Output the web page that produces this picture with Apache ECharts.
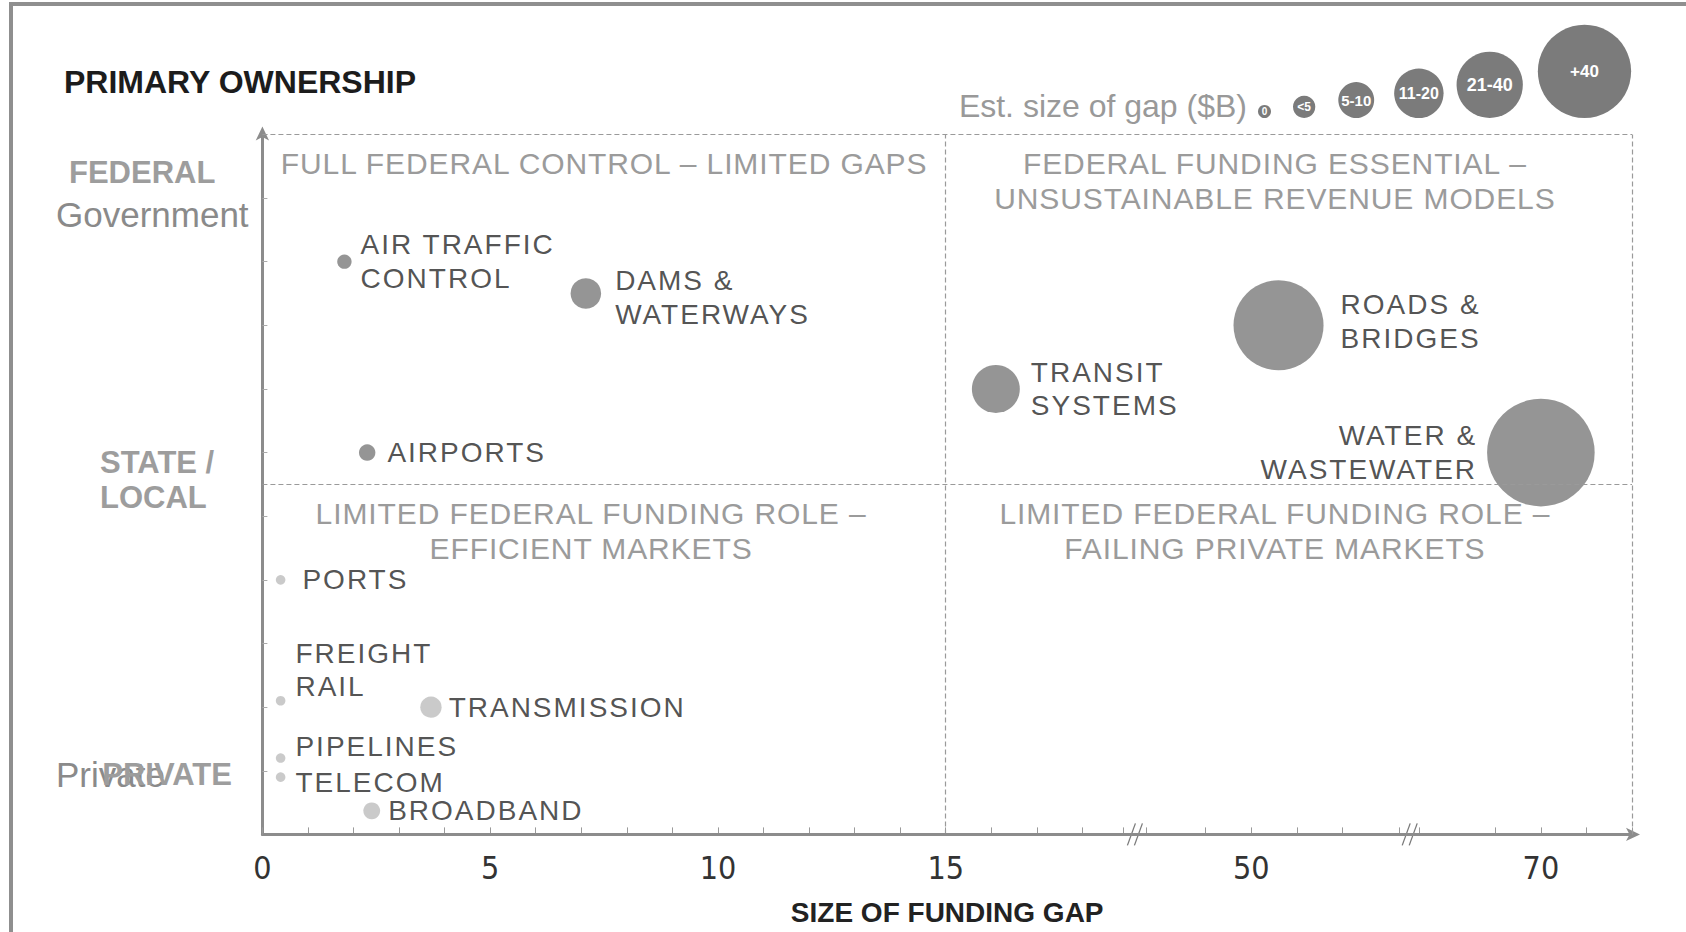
<!DOCTYPE html>
<html>
<head>
<meta charset="utf-8">
<title>Infrastructure funding gap vs primary ownership</title>
<script src="https://cdn.jsdelivr.net/npm/echarts@6/dist/echarts.min.js"></script>
<style>
  html, body { margin: 0; padding: 0; background: #fff; }
  #chart { width: 1686px; height: 932px; }
  /* the source uses loosely tracked caps for the sector and quadrant labels */
  #chart text[style*="Helvetica"] { letter-spacing: 0.9px; }
  #chart text[style*="Arial"] { letter-spacing: 2px; }
</style>
</head>
<body>
<div id="chart"></div>
<script>
// ---- data ----
const sectors = [
  "AIR TRAFFIC\nCONTROL", "DAMS &\nWATERWAYS", "AIRPORTS", "PORTS", "FREIGHT\nRAIL",
  "TRANSMISSION", "PIPELINES", "TELECOM", "BROADBAND", "TRANSIT\nSYSTEMS",
  "ROADS &\nBRIDGES", "WATER &\nWASTEWATER"
];
// size of funding gap ($B), x position
const fundingGap = [1.8, 7.1, 2.3, 0.4, 0.4, 3.7, 0.4, 0.4, 2.4, 16.1, 50.6, 70];
// primary ownership scale: 0 = private ... 11 = federal
const ownership = [9, 8.5, 6, 4, 2.1, 2, 1.2, 0.9, 0.37, 7, 8, 6];

const xTickLabels = [0, 5, 10, 15, 50, 70];
const sizeLegendLabels = ["0", "<5", "5-10", "11-20", "21-40", "+40"];
const sizeLegendValues = [1.5, 4, 9.5, 17, 29, 54];

const quadrantTitles = [
  "FULL FEDERAL CONTROL \u2013 LIMITED GAPS",
  "FEDERAL FUNDING ESSENTIAL \u2013\nUNSUSTAINABLE REVENUE MODELS",
  "LIMITED FEDERAL FUNDING ROLE \u2013\nEFFICIENT MARKETS",
  "LIMITED FEDERAL FUNDING ROLE \u2013\nFAILING PRIVATE MARKETS"
];

// ---- styling ----
const DARK = "#7b7b7b";
const LIGHT = "#bdbdbd";
const AXIS = "#8c8c8c";
const SANS = "'Liberation Sans', sans-serif";
const QUAD_FONT = "Helvetica, 'Liberation Sans', sans-serif";
const LABEL_FONT = "Arial, 'Liberation Sans', sans-serif";
const NARROW = "'Liberation Sans Narrow', 'DejaVu Sans Condensed', 'Liberation Sans', sans-serif";

const X_SPLIT = 15, Y_SPLIT = 5.5, X_MAX = 72, Y_MAX = 11;
const axisBreaks = [
  { start: 18.9, end: 47.7, gap: "1.68%" },
  { start: 53.26, end: 67.34, gap: "1.46%" }
];

const radiusOf = (v) => Math.max(4.8, 5.2 * Math.pow(v, 0.55));

const labelPlace = {
  "AIR TRAFFIC\nCONTROL": { distance: 9 },
  "DAMS &\nWATERWAYS": { distance: 14, offset: [0, 4] },
  "AIRPORTS": { distance: 12 },
  "PORTS": { distance: 17 },
  "FREIGHT\nRAIL": { distance: 10, offset: [0, -31] },
  "TRANSMISSION": { distance: 7 },
  "PIPELINES": { distance: 10, offset: [0, -12] },
  "TELECOM": { distance: 10, offset: [0, 5] },
  "BROADBAND": { distance: 8 },
  "TRANSIT\nSYSTEMS": { distance: 11 },
  "ROADS &\nBRIDGES": { distance: 17, offset: [0, -4] },
  "WATER &\nWASTEWATER": { position: "left", distance: 10 }
};

const quadrantBoxes = [
  { x0: 0, x1: X_SPLIT, y0: Y_SPLIT, y1: Y_MAX, dx: 0 },
  { x0: X_SPLIT, x1: X_MAX, y0: Y_SPLIT, y1: Y_MAX, dx: -14 },
  { x0: 0, x1: X_SPLIT, y0: 0, y1: Y_SPLIT, dx: -13 },
  { x0: X_SPLIT, x1: X_MAX, y0: 0, y1: Y_SPLIT, dx: -14 }
];

const points = sectors.map((name, i) => {
  const place = labelPlace[name] || {};
  return {
    name,
    value: [fundingGap[i], ownership[i]],
    itemStyle: { color: ownership[i] > Y_SPLIT ? DARK : LIGHT },
    label: {
      position: place.position || "right",
      distance: place.distance,
      offset: place.offset || [0, 0],
      align: place.position === "left" ? "right" : "left"
    }
  };
});

// ---- static text blocks ----
const sideLabels = [
  { text: "FEDERAL", x: 69, y: 172, bold: true },
  { text: "Government", x: 56, y: 214, bold: false },
  { text: "STATE /", x: 100, y: 462, bold: true },
  { text: "LOCAL", x: 100, y: 497, bold: true },
  { text: "Private", x: 56, y: 774, bold: false },
  { text: "PRIVATE", x: 232, y: 774, bold: true, align: "right" }
];

function textEl(text, x, y, font, fill, align) {
  return {
    type: "text", silent: true,
    style: {
      text, x, y, font, fill,
      textAlign: align || "left",
      verticalAlign: "middle", textVerticalAlign: "middle"
    }
  };
}

function staticGraphics() {
  const els = [
    { type: "line", silent: true, shape: { x1: 9, y1: 4, x2: 1686, y2: 4 }, style: { stroke: "#8f8f8f", lineWidth: 4 } },
    { type: "line", silent: true, shape: { x1: 11, y1: 2, x2: 11, y2: 932 }, style: { stroke: "#8f8f8f", lineWidth: 4 } },
    textEl("PRIMARY OWNERSHIP", 64, 82, "bold 32px " + SANS, "#1c1c1c"),
    textEl("Est. size of gap ($B)", 1247, 106, "32px " + SANS, "#999999", "right")
  ];
  sideLabels.forEach((s) => {
    els.push(textEl(s.text, s.x, s.y,
      (s.bold ? "bold 31px " : "35px ") + SANS,
      s.bold ? "#9d9d9d" : "#8a8a8a", s.align));
  });

  // bubble size key, bottoms aligned
  const keyFont = [10, 12, 15, 16, 18, 17];
  const keyGaps = [22, 23, 20, 13, 15];
  let cx = 1264.5;
  sizeLegendValues.forEach((v, i) => {
    const r = radiusOf(v);
    if (i > 0) cx += radiusOf(sizeLegendValues[i - 1]) + keyGaps[i - 1] + r;
    els.push({
      type: "circle", silent: true,
      shape: { cx, cy: 118 - r, r },
      style: { fill: DARK },
      textContent: {
        type: "text",
        style: { text: sizeLegendLabels[i], fill: "#ffffff", font: "bold " + keyFont[i] + "px " + SANS }
      },
      textConfig: { position: "inside" }
    });
  });
  return els;
}

const chart = echarts.init(document.getElementById("chart"), null, { renderer: "svg" });

chart.setOption({
  animation: false,
  backgroundColor: "#ffffff",
  textStyle: { fontFamily: SANS },
  grid: { left: 262.4, right: 54, top: 134.4, bottom: 97.6, containLabel: false },
  xAxis: {
    type: "value",
    min: 0,
    max: X_MAX,
    interval: 1,
    breaks: axisBreaks,
    breakArea: { show: false },
    axisLine: {
      lineStyle: { color: AXIS, width: 3 },
      symbol: ["none", "arrow"], symbolSize: [10, 14], symbolOffset: [0, 8]
    },
    axisTick: { show: true, inside: true, length: 7, lineStyle: { color: "#9a9a9a", width: 1 } },
    axisLabel: {
      margin: 18,
      color: "#333333",
      fontSize: 32,
      fontFamily: NARROW,
      formatter: (v) => (xTickLabels.indexOf(Math.round(v * 100) / 100) >= 0 ? String(v) : "")
    },
    splitLine: { show: false },
    name: "SIZE OF FUNDING GAP",
    nameLocation: "middle",
    nameGap: 64,
    nameTextStyle: { fontSize: 28, fontWeight: "bold", color: "#222222", fontFamily: SANS }
  },
  yAxis: {
    type: "value",
    min: 0,
    max: Y_MAX,
    interval: 1,
    axisLine: {
      show: true,
      lineStyle: { color: AXIS, width: 3 },
      symbol: ["none", "arrow"], symbolSize: [10, 14], symbolOffset: [0, 8]
    },
    axisTick: { show: true, inside: true, length: 5, lineStyle: { color: "#aaaaaa", width: 1 } },
    axisLabel: { show: false },
    splitLine: { show: false }
  },
  series: [
    {
      // quadrant frame and titles, kept under the bubbles
      type: "scatter",
      z: 1,
      silent: true,
      data: [],
      markLine: {
        silent: true,
        symbol: "none",
        label: { show: false },
        lineStyle: { color: "#9a9a9a", width: 1.2, type: [5, 3] },
        data: [
          { xAxis: X_SPLIT }, { xAxis: X_MAX }, { yAxis: Y_SPLIT }, { yAxis: Y_MAX },
          // the axis line runs straight through the breaks in the source
          { yAxis: 0, lineStyle: { type: "solid", color: AXIS, width: 3 } }
        ]
      },
      markArea: {
        silent: true,
        itemStyle: { color: "rgba(0,0,0,0)" },
        label: {
          position: "insideTop",
          distance: 12,
          color: "#9b9b9b",
          fontSize: 30,
          lineHeight: 34.5,
          fontFamily: QUAD_FONT
        },
        data: quadrantBoxes.map((q, i) => [
          { name: quadrantTitles[i], xAxis: q.x0, yAxis: q.y1, label: { offset: [q.dx, 0] } },
          { xAxis: q.x1, yAxis: q.y0 }
        ])
      }
    },
    {
      type: "scatter",
      z: 3,
      data: points,
      symbolSize: (val) => 2 * radiusOf(val[0]),
      label: {
        show: true,
        formatter: "{b}",
        color: "#262626",
        fontSize: 28,
        lineHeight: 33.5,
        fontFamily: LABEL_FONT
      },
      emphasis: { disabled: true }
    }
  ],
  graphic: staticGraphics()
});

// "//" break marks on the x axis, placed where the axis puts each break
const axisY = chart.convertToPixel({ yAxisIndex: 0 }, 0);
const breakMarks = [];
axisBreaks.forEach((b) => {
  const c = (chart.convertToPixel({ xAxisIndex: 0 }, b.start) + chart.convertToPixel({ xAxisIndex: 0 }, b.end)) / 2;
  [-3.5, 3.5].forEach((k) => {
    breakMarks.push({
      type: "line", silent: true,
      shape: { x1: c + k - 4, y1: axisY + 11, x2: c + k + 4, y2: axisY - 11 },
      style: { stroke: "#7a7a7a", lineWidth: 1.3 }
    });
  });
});
chart.setOption({ graphic: staticGraphics().concat(breakMarks) });
</script>
</body>
</html>
